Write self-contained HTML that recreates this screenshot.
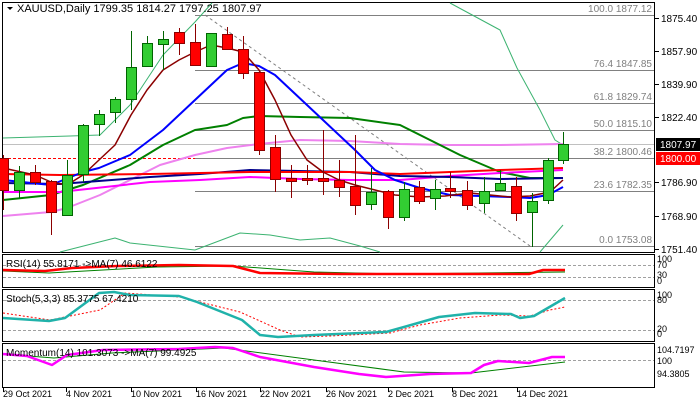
<!DOCTYPE html>
<html><head><meta charset="utf-8"><style>
html,body{margin:0;padding:0;background:#fff;}
svg{display:block;font-family:"Liberation Sans",sans-serif;}
</style></head><body>
<svg id="s" width="700" height="400" viewBox="0 0 700 400" xmlns="http://www.w3.org/2000/svg">
<rect width="700" height="400" fill="#fff"/>
<rect x="2.5" y="2.5" width="652" height="250" fill="none" stroke="#000"/>
<rect x="2.5" y="254.5" width="652" height="33" fill="none" stroke="#000"/>
<rect x="2.5" y="289.5" width="652" height="52" fill="none" stroke="#000"/>
<rect x="2.5" y="343.5" width="652" height="44" fill="none" stroke="#000"/>
<g id="g"></g>
</svg>
<script>
const g=document.getElementById('g');const NS='http://www.w3.org/2000/svg';
function el(t,a,txt){const e=document.createElementNS(NS,t);for(const k in a)e.setAttribute(k,a[k]);if(txt!==undefined)e.textContent=txt;g.appendChild(e);return e;}
function pl(pts,c,w,extra){const a={points:pts.map(p=>p.join(',')).join(' '),fill:'none',stroke:c,'stroke-width':w,'stroke-linejoin':'round'};Object.assign(a,extra||{});el('polyline',a);}
el('line',{x1:3,y1:144.5,x2:654,y2:144.5,stroke:'#c0c0c0'});
el('line',{x1:3,y1:158.5,x2:654,y2:158.5,stroke:'#f00','stroke-dasharray':'3,2'});
[[15,'100.0 1877.12'],[70,'76.4 1847.85'],[103,'61.8 1829.74'],[130,'50.0 1815.10'],[158,'38.2 1800.46'],[191,'23.6 1782.35'],[246,'0.0 1753.08']].forEach(f=>{
 el('line',{x1:195,y1:f[0]+.5,x2:654,y2:f[0]+.5,stroke:'#808080'});
 el('text',{x:652,y:f[0]-3,'font-size':10,'text-anchor':'end',fill:'#808080'},f[1]);
});
el('line',{x1:205,y1:15,x2:530,y2:246,stroke:'#808080','stroke-dasharray':'3,3'});
pl([[3,138],[70,136],[100,135],[130,105],[163,55],[195,22],[212,3]],'#3cb371',1);
pl([[450,3],[500,30],[517,68],[540,110],[555,140],[563,145]],'#3cb371',1);
pl([[60,252],[115,238],[130,243],[195,250]],'#3cb371',1);
pl([[195,250],[240,233],[270,235],[300,240],[330,238],[360,246],[380,252]],'#3cb371',1);
pl([[540,252],[563,225]],'#3cb371',1);
pl([[3,216],[51,212],[67,208],[100,195],[130,180],[160,165],[195,155],[227,148],[259,144],[300,140],[350,141],[400,144],[450,145],[500,145],[563,144]],'#ee82ee',2);
pl([[3,200],[51,195],[83,185],[130,165],[163,145],[195,130],[227,125],[243,118],[259,116],[300,117],[350,118],[400,125],[430,140],[460,155],[500,172],[530,178],[563,178]],'#008000',2);
pl([[3,192],[60,192],[150,182],[200,180],[250,177],[300,179],[350,180],[400,180],[450,176],[500,173],[563,170]],'#ff00ff',2);
pl([[3,183],[60,184],[150,177],[200,174],[250,170],[350,172],[400,176],[450,177],[500,179],[563,178]],'#00008b',2);
pl([[3,174],[60,175],[150,174],[250,172],[300,172],[350,172],[400,174],[450,172],[500,170],[563,168]],'#ff0000',2);
pl([[3,180],[51,185],[83,172],[99,168],[130,155],[163,130],[195,100],[227,70],[243,63],[259,66],[275,75],[291,90],[307,105],[323,120],[339,135],[355,150],[375,170],[395,180],[420,188],[450,195],[480,196],[510,197],[530,198],[548,195],[563,187]],'#0000ff',2);
pl([[3,168],[35,175],[51,182],[67,185],[83,175],[115,145],[131,115],[147,90],[163,70],[179,60],[195,52],[211,45],[227,48],[243,52],[259,70],[275,100],[291,135],[307,160],[323,172],[339,180],[355,185],[375,190],[395,195],[420,197],[445,196],[470,193],[490,195],[510,197],[530,196],[550,192],[563,180]],'#8b0000',1.5);
const C=[[3,158,190,155,210,'r'],[19,190,172,166,198,'g'],[35,172,182,165,185,'r'],[51,181,212,180,235,'r'],[67,215,175,160,215,'g'],[83,174,125,124,182,'g'],[99,124,114,110,136,'g'],[115,112,99,97,123,'g'],[131,99,67,31,110,'g'],[147,66,43,36,66,'g'],[163,44,39,31,70,'g'],[179,32,43,28,55,'r'],[195,42,65,24,66,'r'],[211,66,33,33,66,'g'],[227,34,49,27,50,'r'],[243,49,73,36,79,'r'],[259,72,150,72,155,'r'],[275,147,179,135,192,'r'],[291,178,181,165,198,'r'],[307,178,180,165,185,'r'],[323,178,181,130,195,'r'],[339,180,187,160,197,'r'],[355,186,205,135,215,'r'],[371,204,192,168,210,'g'],[388,191,217,190,229,'r'],[404,217,189,182,221,'g'],[419,187,201,181,204,'r'],[435,198,189,180,210,'g'],[450,188,191,172,198,'r'],[467,190,205,181,210,'r'],[484,203,191,177,213,'g'],[500,190,183,170,190,'g'],[516,186,213,177,221,'r'],[532,212,201,193,247,'g'],[548,200,160,158,204,'g'],[563,160,144,132,164,'g']];
C.forEach(c=>{const up=c[5]=='g';const fill=up?'#32cd32':'#ff0000';const wc=up?'#006400':'#8b0000';
 el('line',{x1:c[0]+.5,y1:c[3],x2:c[0]+.5,y2:c[4],stroke:wc});
 const t=Math.min(c[1],c[2]),b=Math.max(c[1],c[2]);
 el('rect',{x:c[0]-4.5,y:t+.5,width:10,height:Math.max(b-t,1),fill:fill,stroke:wc});});
el('path',{d:'M7 7 L13 7 L10 10 Z',fill:'#000'});
el('text',{x:17,y:12,'font-size':11,fill:'#000'},'XAUUSD,Daily  1799.35 1814.27 1797.25 1807.97');
[[18,'1875.40'],[51,'1857.90'],[84,'1839.90'],[117,'1822.40'],[182,'1786.90'],[216,'1768.90'],[249,'1751.40']].forEach(a=>{
 el('line',{x1:655,y1:a[0]+.5,x2:659,y2:a[0]+.5,stroke:'#000'});
 el('text',{x:661,y:a[0]+4,'font-size':10,fill:'#000'},a[1]);});
el('rect',{x:656,y:138,width:44,height:13,fill:'#000'});
el('text',{x:660,y:148,'font-size':10,fill:'#fff'},'1807.97');
el('rect',{x:656,y:152,width:44,height:13,fill:'#ff0000'});
el('text',{x:660,y:162,'font-size':10,fill:'#fff'},'1800.00');
// RSI
[265,277].forEach(y=>el('line',{x1:3,y1:y+.5,x2:654,y2:y+.5,stroke:'#a0a0a0','stroke-dasharray':'3,2'}));
pl([[3,271],[49,273],[157,267],[233,266],[314,272],[395,274],[565,272]],'#008000',1);
pl([[3,270],[45,271],[72,268],[117,266],[179,265],[233,266],[260,273],[341,274],[529,274],[543,270],[565,270]],'#ff0000',2.5);
el('text',{x:6,y:267,'font-size':10,fill:'#000'},'RSI(14) 55.8171  ->MA(7) 46.6122');
[[262,'100'],[268,'70'],[278,'30'],[284,'0']].forEach(a=>el('text',{x:657,y:a[0],'font-size':9,fill:'#000'},a[1]));
// Stoch
[300,330].forEach(y=>el('line',{x1:3,y1:y+.5,x2:654,y2:y+.5,stroke:'#a0a0a0','stroke-dasharray':'3,2'}));
pl([[3,313],[50,320],[100,310],[125,293],[180,297],[240,312],[280,330],[300,337],[330,336],[390,333],[420,325],[460,318],[500,315],[530,316],[550,310],[565,307]],'#ff0000',1,{'stroke-dasharray':'2,2'});
pl([[3,318],[49,321],[65,318],[99,293],[114,292],[130,295],[179,296],[197,302],[242,320],[260,335],[278,337],[314,335],[386,332],[404,327],[439,317],[475,313],[511,314],[520,318],[534,316],[565,298]],'#20b2aa',2.5);
el('text',{x:6,y:302,'font-size':10,fill:'#000'},'Stoch(5,3,3) 85.3775 67.4210');
[[298,'100'],[303,'80'],[332,'20'],[337,'0']].forEach(a=>el('text',{x:657,y:a[0],'font-size':9,fill:'#000'},a[1]));
// Momentum
el('line',{x1:3,y1:360.5,x2:654,y2:360.5,stroke:'#a0a0a0','stroke-dasharray':'3,2'});
pl([[3,354],[54,358],[112,353],[224,348],[314,360],[404,372],[471,373],[565,362]],'#008000',1);
pl([[3,354],[27,356],[52,365],[67,355],[103,350],[179,349],[215,347],[233,348],[260,357],[314,367],[359,374],[386,377],[430,374],[471,373],[484,365],[498,361],[529,363],[552,357],[565,357]],'#ff00ff',2.5);
el('text',{x:6,y:356,'font-size':10,fill:'#000'},'Momentum(14) 101.3073  ->MA(7) 99.4925');
[[353,'104.7197'],[364,'100'],[377,'94.3805']].forEach(a=>el('text',{x:657,y:a[0],'font-size':9,fill:'#000'},a[1]));
// dates
[[3,'29 Oct 2021'],[66,'4 Nov 2021'],[131,'10 Nov 2021'],[196,'16 Nov 2021'],[260,'22 Nov 2021'],[326,'26 Nov 2021'],[388,'2 Dec 2021'],[452,'8 Dec 2021'],[517,'14 Dec 2021']].forEach(d=>{
 el('line',{x1:d[0]+.5,y1:388,x2:d[0]+.5,y2:392,stroke:'#000'});
 el('text',{x:d[0],y:397,'font-size':9,fill:'#000'},d[1]);});
</script>
</body></html>
